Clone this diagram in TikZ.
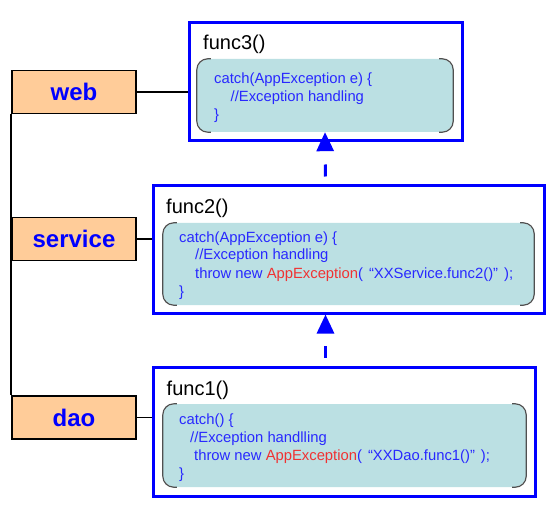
\documentclass[tikz,border=0pt]{standalone}
\usepackage{fontspec}
\setmainfont{Liberation Sans}
\usetikzlibrary{arrows.meta}
\definecolor{layerorange}{RGB}{255,204,153}
\definecolor{codeteal}{RGB}{187,224,227}
\definecolor{codeblue}{RGB}{40,40,255}
\definecolor{codered}{RGB}{240,50,50}
\definecolor{edgegray}{RGB}{80,80,80}
\tikzset{
  layer/.style={draw=black, line width=1.8pt, fill=layerorange, minimum width=124pt, minimum height=43pt, inner sep=0pt, text=blue, font=\fontsize{24}{24}\selectfont\bfseries},
  funcbox/.style={draw=blue, line width=3pt, inner sep=0pt},
  codebox/.style={fill=codeteal, rounded corners=12pt, inner sep=0pt},
  codeedge/.style={draw=edgegray, line width=1.2pt, rounded corners=11pt},
  functitle/.style={anchor=base west, inner sep=0pt, font=\fontsize{20}{24}\selectfont},
  code/.style={anchor=base west, inner sep=0pt, align=left, text=codeblue, font=\fontsize{14.8}{18}\selectfont},
  link/.style={line width=1.8pt},
  flow/.style={draw=blue, line width=3pt, dash pattern=on 12pt off 23pt, dash phase=27pt, -{Triangle[length=19pt,width=17pt]}}
}
\begin{document}
\begin{tikzpicture}[x=1pt, y=-1pt]
            \useasboundingbox (0,0) rectangle (556,518);

            % layers
            \node[layer] (web) at (74,92) {web};
            \node[layer] (service) at (74,239) {service};
            \node[layer] (dao) at (74,417.5) {dao};

            % function boxes
            \node[funcbox, minimum width=273pt, minimum height=118pt] (f3) at (325.5,82) {};
            \node[codebox, minimum width=256pt, minimum height=73pt] (c3) at (325,95.5) {};
            \node[funcbox, minimum width=391pt, minimum height=127pt] (f2) at (348.5,249.5) {};
            \node[codebox, minimum width=371pt, minimum height=82pt] (c2) at (348.5,264) {};
            \node[funcbox, minimum width=382pt, minimum height=129pt] (f1) at (344,431.5) {};
            \node[codebox, minimum width=363pt, minimum height=83pt] (c1) at (344.5,445.5) {};

            \foreach \c in {c3,c2,c1} {
                \draw[codeedge] ([xshift=14pt]\c.north west) -- (\c.north west) -- (\c.south west) -- ([xshift=14pt]\c.south west);
                \draw[codeedge] ([xshift=-14pt]\c.north east) -- (\c.north east) -- (\c.south east) -- ([xshift=-14pt]\c.south east);
            }

            % texts (code nodes sit on the baseline of their last line)
            \node[functitle] (t3) at (203,50) {func3()};
            \node[code] (k3) at (214,119.5) {catch(AppException e) \{\\\hspace*{16.5pt}//Exception handling\\\}};
            \node[functitle] (t2) at (166,214) {func2()};
            \node[code] (k2) at (179,296) {catch(AppException e) \{\\\hspace*{16pt}//Exception handling\\\hspace*{16pt}throw new \textcolor{codered}{AppException}(\hspace{6pt}“XXService.func2()”\hspace{6pt});\\\}};
            \node[functitle] (t1) at (166.5,395) {func1()};
            \node[code] (k1) at (179,478) {catch() \{\\\hspace*{11pt}//Exception handlling\\\hspace*{15pt}throw new \textcolor{codered}{AppException}(\hspace{6pt}“XXDao.func1()”\hspace{6pt});\\\}};

            % connectors
            \draw[link] (web.south west) -- (dao.north west);
            \draw[link] (web.east) -- (web.east -| f3.west);
            \draw[link] (service.east) -- (service.east -| f2.west);
            \draw[link] (dao.east) -- (dao.east -| f1.west);

            \draw[flow] (f1.north -| f3) -- (f2.south -| f3);
            \draw[flow] (f2.north -| f3) -- (c3.south);
        \end{tikzpicture}
\end{document}
